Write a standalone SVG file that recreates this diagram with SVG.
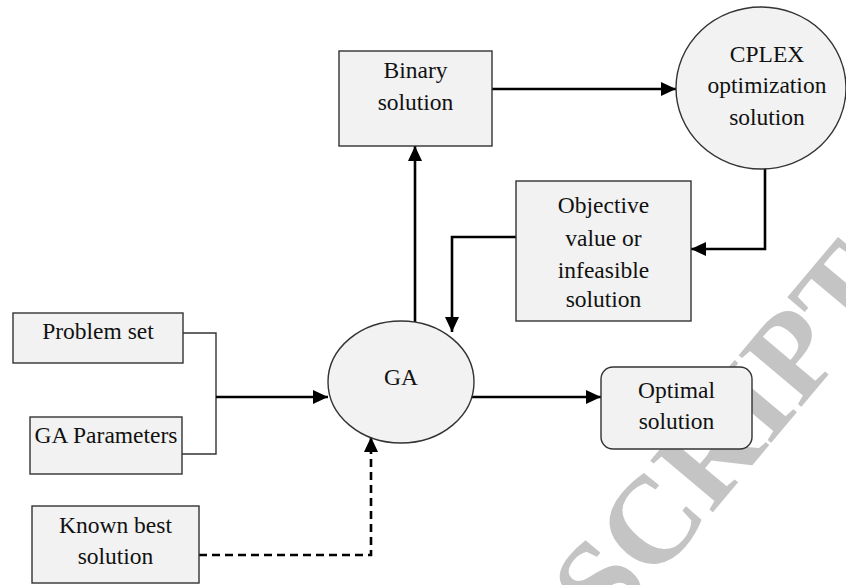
<svg xmlns="http://www.w3.org/2000/svg" width="846" height="585" viewBox="0 0 846 585">
<defs>
<marker id="arr" viewBox="0 0 15 14" refX="15" refY="7" markerWidth="15" markerHeight="14" markerUnits="userSpaceOnUse" orient="auto">
<path d="M0,0 L15,7 L0,14 z" fill="#000"/>
</marker>
</defs>
<style>
.box{fill:#f2f2f2;stroke:#333;stroke-width:1.4}
.t{font-family:"Liberation Serif","Times New Roman",serif;font-size:23.5px;fill:#111;text-anchor:middle}
.c{fill:none;stroke:#000;stroke-width:2.6}
.thin{fill:none;stroke:#333;stroke-width:1.4}
.dash{stroke-dasharray:8 5}
.wm{font-family:"Liberation Serif","Times New Roman",serif;font-size:124px;font-weight:bold;fill:#c4c4c4}
</style>
<rect width="846" height="585" fill="#fff"/>
<text class="wm" transform="translate(609,636) rotate(-50)">SCRIPT</text>
<g id="connectors">
<path class="thin" d="M183,333 H216 V454 H182"/>
<path class="c" d="M216,397 H328" marker-end="url(#arr)"/>
<path class="c" d="M470,397 H601" marker-end="url(#arr)"/>
<path class="c" d="M415,322 V146" marker-end="url(#arr)"/>
<path class="c" d="M492,89 H676" marker-end="url(#arr)"/>
<path class="c" d="M765,168 V249 H691" marker-end="url(#arr)"/>
<path class="c" d="M516,237 H452 V332" marker-end="url(#arr)"/>
<path class="c dash" d="M199,555 H371 V437" marker-end="url(#arr)"/>
</g>
<g id="problem-set">
<rect class="box" x="13" y="313" width="170" height="50"/>
<text class="t" x="98" y="339">Problem set</text>
</g>
<g id="ga-parameters">
<rect class="box" x="30" y="417" width="152" height="57"/>
<text class="t" x="106" y="443">GA Parameters</text>
</g>
<g id="known-best">
<rect class="box" x="32" y="506" width="167" height="77"/>
<text class="t" x="115.5" y="533">Known best</text>
<text class="t" x="115.5" y="564">solution</text>
</g>
<g id="ga">
<ellipse class="box" cx="401" cy="382" rx="73" ry="61"/>
<text class="t" x="401" y="385">GA</text>
</g>
<g id="binary-solution">
<rect class="box" x="339" y="51" width="153" height="95"/>
<text class="t" x="415.5" y="78">Binary</text>
<text class="t" x="415.5" y="110">solution</text>
</g>
<g id="cplex">
<ellipse class="box" cx="761" cy="88" rx="85" ry="81"/>
<text class="t" x="767" y="62">CPLEX</text>
<text class="t" x="767" y="93">optimization</text>
<text class="t" x="767" y="125">solution</text>
</g>
<g id="objective">
<rect class="box" x="516" y="181" width="175" height="140"/>
<text class="t" x="603.5" y="213">Objective</text>
<text class="t" x="603.5" y="246">value or</text>
<text class="t" x="603.5" y="278">infeasible</text>
<text class="t" x="603.5" y="307">solution</text>
</g>
<g id="optimal">
<rect class="box" x="601" y="367" width="151" height="82" rx="12" ry="12"/>
<text class="t" x="676.5" y="398">Optimal</text>
<text class="t" x="676.5" y="429">solution</text>
</g>
</svg>
